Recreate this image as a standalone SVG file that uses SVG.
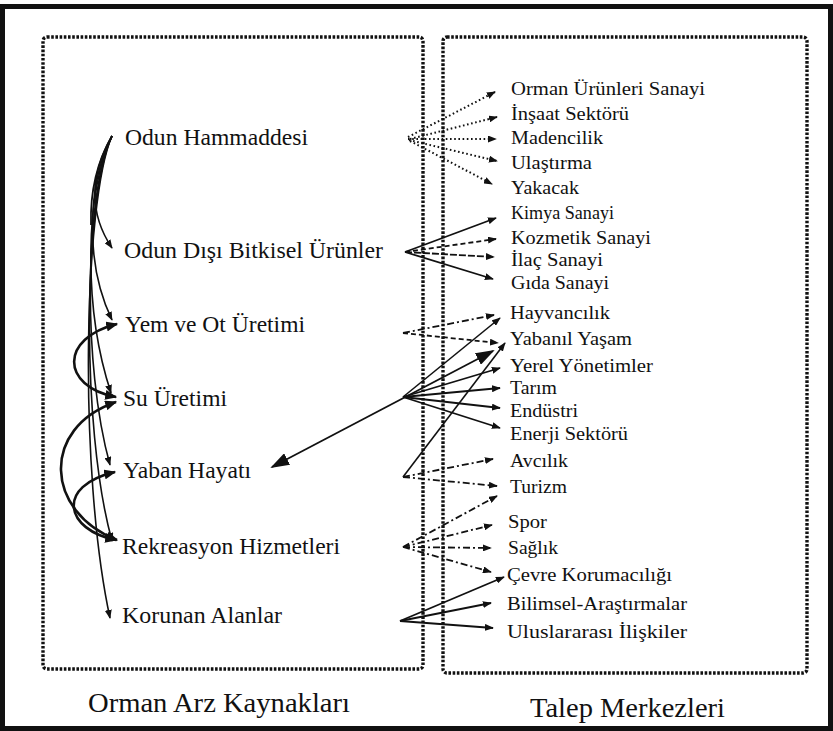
<svg xmlns="http://www.w3.org/2000/svg" width="833" height="731" viewBox="0 0 833 731">
<style>
text{font-family:"Liberation Serif","Times New Roman",serif;fill:#111}
.l{font-size:23px}
.r{font-size:19px}
.ttl{font-size:28px}
.box{fill:none;stroke:#111;stroke-width:3.4;stroke-dasharray:2.6 1.6}
.c{fill:none;stroke:#111;stroke-width:1.8}
.thin{stroke-width:1.6}
.bold{stroke-width:2.6}
.dot{stroke-dasharray:1.6 2.6;stroke-width:2}
.dash{stroke-dasharray:5 3}
.dd{stroke-dasharray:7 3 2 3}
.sa{marker-end:url(#a)}
.sb{marker-start:url(#b);marker-end:url(#b)}
</style>
<defs>
<marker id="a" viewBox="0 0 10 10" refX="9" refY="5" markerWidth="9" markerHeight="7" markerUnits="userSpaceOnUse" orient="auto" preserveAspectRatio="none"><path d="M0,0 L10,5 L0,10 z" fill="#111"/></marker>
<marker id="b" viewBox="0 0 10 10" refX="9" refY="5" markerWidth="12" markerHeight="10" markerUnits="userSpaceOnUse" orient="auto-start-reverse" preserveAspectRatio="none"><path d="M0,0 L10,5 L0,10 z" fill="#111"/></marker>
<marker id="big" viewBox="0 0 10 10" refX="9" refY="5" markerWidth="19" markerHeight="13" markerUnits="userSpaceOnUse" orient="auto-start-reverse" preserveAspectRatio="none"><path d="M0,0 L10,5 L0,10 z" fill="#111"/></marker>
</defs>
<rect x="2.5" y="6.5" width="828" height="722" fill="#fff" stroke="#111" stroke-width="5"/>
<g id="frames">
<rect class="box" x="43" y="37" width="380" height="632" rx="4"/>
<rect class="box" x="443" y="37" width="364" height="636" rx="4"/>
</g>
<g id="connectors">
<path class="c" stroke-width="2.4" d="M112,136 C98,160 90,190 91,225"/>
<path class="c thin sa" d="M112,136 C90,175 88,212 112,248"/>
<path class="c thin sa" d="M112,136 C88,182 84,262 112,320"/>
<path class="c thin sa" d="M112,136 C86,188 82,305 111,393"/>
<path class="c thin sa" d="M112,136 C85,192 82,365 110,465"/>
<path class="c thin sa" d="M112,136 C84,196 80,425 112,541"/>
<path class="c thin sa" d="M112,136 C84,200 78,470 110,618"/>
<path class="c bold sb" d="M117,324 C60,338 60,386 116,397"/>
<path class="c bold sb" d="M116,402 C40,428 45,512 117,540"/>
<path class="c bold sb" d="M115,472 C55,486 65,530 116,540"/>
<path class="c" stroke-width="3" marker-start="url(#big)" marker-end="url(#big)" d="M272,467 L493,351"/>
<path class="c dot sa" d="M408,137 L495,92"/>
<path class="c dot sa" d="M410,139 L497,117"/>
<path class="c dot sa" d="M408,139 L496,139"/>
<path class="c dot sa" d="M409,140 L497,161"/>
<path class="c dot sa" d="M410,141 L492,184"/>
<path class="c sa" d="M405,252 L496,218"/>
<path class="c dash sa" d="M405,252 L496,239"/>
<path class="c sa" stroke-dasharray="7 2" d="M405,252 L494,257"/>
<path class="c sa" d="M405,252 L493,279"/>
<path class="c dd sa" d="M403,333 L494,315"/>
<path class="c dash sa" d="M403,333 L498,343"/>
<path class="c thin sa" d="M403,397 L500,318"/>
<path class="c sa" d="M403,397 L500,368"/>
<path class="c sa" d="M403,397 L500,388"/>
<path class="c sa" d="M403,397 L500,408"/>
<path class="c sa" d="M403,397 L500,428"/>
<path class="c thin sa" d="M403,477 L505,343"/>
<path class="c dd sa" d="M403,477 L493,459"/>
<path class="c dd sa" d="M403,477 L497,486"/>
<path class="c dd sa" d="M403,547 L497,496"/>
<path class="c dd sa" d="M403,547 L492,525"/>
<path class="c dd sa" d="M403,547 L491,548"/>
<path class="c dd sa" d="M403,547 L491,572"/>
<path class="c sa" d="M400,621 L504,577"/>
<path class="c sa" d="M400,621 L491,603"/>
<path class="c sa" d="M400,621 L493,628"/>
</g>
<g id="n-odun-hammaddesi"><text class="l" x="125" y="145" textLength="183" lengthAdjust="spacingAndGlyphs">Odun Hammaddesi</text></g>
<g id="n-odun-disi"><text class="l" x="124" y="258" textLength="259" lengthAdjust="spacingAndGlyphs">Odun Dışı Bitkisel Ürünler</text></g>
<g id="n-yem-ot"><text class="l" x="125" y="332" textLength="180" lengthAdjust="spacingAndGlyphs">Yem ve Ot Üretimi</text></g>
<g id="n-su"><text class="l" x="123" y="406" textLength="104" lengthAdjust="spacingAndGlyphs">Su Üretimi</text></g>
<g id="n-yaban"><text class="l" x="123" y="478" textLength="128" lengthAdjust="spacingAndGlyphs">Yaban Hayatı</text></g>
<g id="n-rekreasyon"><text class="l" x="122" y="554" textLength="218" lengthAdjust="spacingAndGlyphs">Rekreasyon Hizmetleri</text></g>
<g id="n-korunan"><text class="l" x="122" y="623" textLength="160" lengthAdjust="spacingAndGlyphs">Korunan Alanlar</text></g>
<g id="n-orman-urunleri"><text class="r" x="511" y="95" textLength="194" lengthAdjust="spacingAndGlyphs">Orman Ürünleri Sanayi</text></g>
<g id="n-insaat"><text class="r" x="511" y="120" textLength="118" lengthAdjust="spacingAndGlyphs">İnşaat Sektörü</text></g>
<g id="n-madencilik"><text class="r" x="511" y="144" textLength="92" lengthAdjust="spacingAndGlyphs">Madencilik</text></g>
<g id="n-ulastirma"><text class="r" x="511" y="169" textLength="81" lengthAdjust="spacingAndGlyphs">Ulaştırma</text></g>
<g id="n-yakacak"><text class="r" x="511" y="194" textLength="68" lengthAdjust="spacingAndGlyphs">Yakacak</text></g>
<g id="n-kimya"><text class="r" x="511" y="219" textLength="103" lengthAdjust="spacingAndGlyphs">Kimya Sanayi</text></g>
<g id="n-kozmetik"><text class="r" x="511" y="244" textLength="140" lengthAdjust="spacingAndGlyphs">Kozmetik Sanayi</text></g>
<g id="n-ilac"><text class="r" x="511" y="266" textLength="92" lengthAdjust="spacingAndGlyphs">İlaç Sanayi</text></g>
<g id="n-gida"><text class="r" x="511" y="289" textLength="98" lengthAdjust="spacingAndGlyphs">Gıda Sanayi</text></g>
<g id="n-hayvancilik"><text class="r" x="510" y="319" textLength="100" lengthAdjust="spacingAndGlyphs">Hayvancılık</text></g>
<g id="n-yabanil"><text class="r" x="510" y="345" textLength="122" lengthAdjust="spacingAndGlyphs">Yabanıl Yaşam</text></g>
<g id="n-yerel"><text class="r" x="510" y="372" textLength="143" lengthAdjust="spacingAndGlyphs">Yerel Yönetimler</text></g>
<g id="n-tarim"><text class="r" x="510" y="394" textLength="47" lengthAdjust="spacingAndGlyphs">Tarım</text></g>
<g id="n-endustri"><text class="r" x="510" y="417" textLength="68" lengthAdjust="spacingAndGlyphs">Endüstri</text></g>
<g id="n-enerji"><text class="r" x="510" y="440" textLength="118" lengthAdjust="spacingAndGlyphs">Enerji Sektörü</text></g>
<g id="n-avcilik"><text class="r" x="510" y="467" textLength="58" lengthAdjust="spacingAndGlyphs">Avcılık</text></g>
<g id="n-turizm"><text class="r" x="510" y="493" textLength="57" lengthAdjust="spacingAndGlyphs">Turizm</text></g>
<g id="n-spor"><text class="r" x="508" y="528" textLength="39" lengthAdjust="spacingAndGlyphs">Spor</text></g>
<g id="n-saglik"><text class="r" x="508" y="554" textLength="50" lengthAdjust="spacingAndGlyphs">Sağlık</text></g>
<g id="n-cevre"><text class="r" x="507" y="581" textLength="165" lengthAdjust="spacingAndGlyphs">Çevre Korumacılığı</text></g>
<g id="n-bilimsel"><text class="r" x="507" y="610" textLength="180" lengthAdjust="spacingAndGlyphs">Bilimsel-Araştırmalar</text></g>
<g id="n-uluslararasi"><text class="r" x="507" y="638" textLength="180" lengthAdjust="spacingAndGlyphs">Uluslararası İlişkiler</text></g>
<g id="title-left"><text class="ttl" x="88" y="712" textLength="262" lengthAdjust="spacingAndGlyphs">Orman Arz Kaynakları</text></g>
<g id="title-right"><text class="ttl" x="530" y="717" textLength="195" lengthAdjust="spacingAndGlyphs">Talep Merkezleri</text></g>
</svg>
